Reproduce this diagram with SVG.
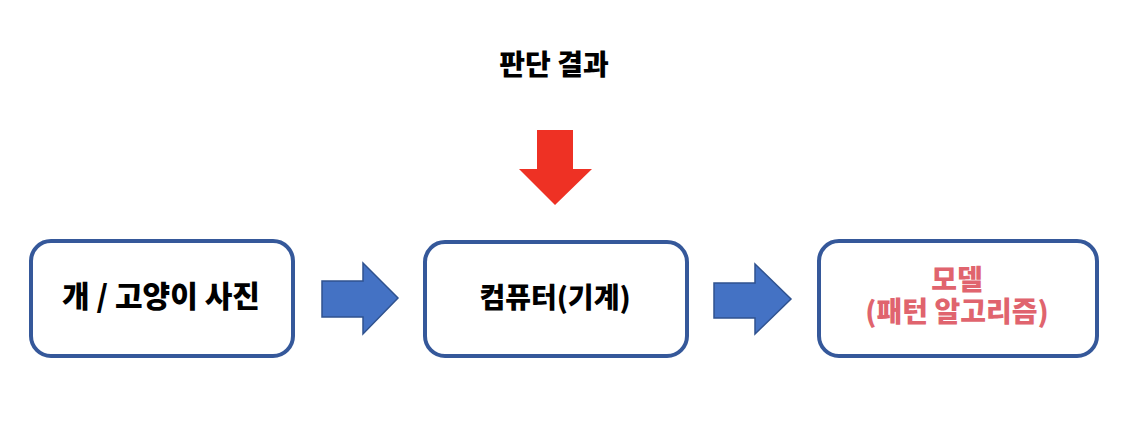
<svg xmlns="http://www.w3.org/2000/svg" width="1136" height="428" viewBox="0 0 1136 428">
<style>
.box{fill:#fff;stroke:#35589A;stroke-width:4}
.arr{fill:#4472C4;stroke:#2F528F;stroke-width:1.5}
.t{font-family:"Noto Sans CJK KR","Noto Sans",sans-serif;font-weight:900;text-anchor:middle;font-size:28px;fill:#000}
.pk{fill:#E0646E;font-size:28px}
</style>
<rect width="1136" height="428" fill="#fff"/>
<g id="result-label"><text class="t" x="554" y="75">판단 결과</text></g>
<g id="photo"><rect class="box" x="31" y="241" width="262" height="115" rx="20"/><text class="t" x="161" y="307" style="font-size:30px">개 / 고양이 사진</text></g>
<g id="computer"><rect class="box" x="425" y="242" width="262" height="114" rx="20"/><text class="t" x="555" y="308">컴퓨터(기계)</text></g>
<g id="model"><rect class="box" x="819" y="241" width="278" height="115" rx="20"/><text class="t pk" x="957" y="290">모델</text><text class="t pk" x="957" y="322">(패턴 알고리즘)</text></g>
<g id="connectors">
<polygon class="arr" points="322,281 363,281 363,263 398,298 363,334 363,317 322,317"/>
<polygon class="arr" points="714,283 755,283 755,264 791,299 755,334 755,318 714,318"/>
<polygon fill="#EE3124" points="537,130 573,130 573,169 592,169 555,205 519,169 537,169"/>
</g>
</svg>
